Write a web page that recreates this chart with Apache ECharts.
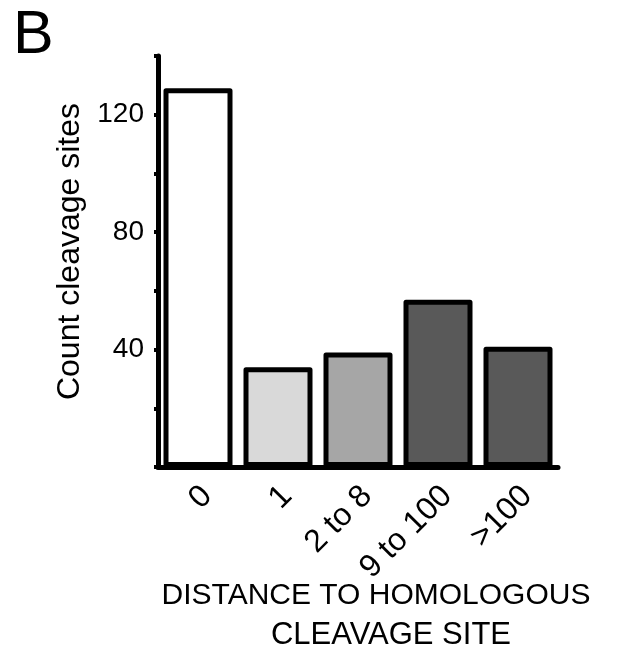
<!DOCTYPE html>
<html>
<head>
<meta charset="utf-8">
<script src="https://cdn.jsdelivr.net/npm/echarts@6/dist/echarts.min.js"></script>
<style>
html,body{margin:0;padding:0;background:#fff;}
#chart{width:622px;height:657px;}
</style>
</head>
<body>
<div id="chart"></div>
<script>
const categories = ['0', '1', '2 to 8', '9 to 100', '>100'];
const counts = [129, 34, 39, 57, 41];
const barColors = ['#ffffff', '#d9d9d9', '#a6a6a6', '#595959', '#595959'];
const yLabelValues = [40, 80, 120];
const yTitle = 'Count cleavage sites';
const xTitleLines = ['DISTANCE TO HOMOLOGOUS', 'CLEAVAGE SITE'];
const panelLabel = 'B';

const FONT = '"Liberation Sans", Arial, Helvetica, sans-serif';
const chart = echarts.init(document.getElementById('chart'), null, {renderer: 'canvas'});

chart.setOption({
  animation: false,
  backgroundColor: '#ffffff',
  grid: {left: 158, right: 64, top: 56, bottom: 190, containLabel: false},
  xAxis: {
    type: 'category',
    data: categories,
    axisLine: {show: true, lineStyle: {color: '#000', width: 5}},
    axisTick: {show: false},
    axisLabel: {rotate: 45, margin: 15, fontSize: 32, lineHeight: 26, verticalAlign: 'top', color: '#000', fontFamily: FONT, interval: 0}
  },
  yAxis: {
    type: 'value',
    min: 0, max: 140, interval: 20,
    name: yTitle,
    nameLocation: 'middle',
    nameGap: 72,
    nameRotate: 90,
    nameTextStyle: {fontSize: 32, color: '#000', fontFamily: FONT, padding: [0, 0, 0, 20]},
    splitLine: {show: false},
    axisLine: {show: true, lineStyle: {color: '#000', width: 5}},
    axisTick: {show: true, inside: false, length: 4, lineStyle: {color: '#000', width: 4}},
    axisLabel: {
      margin: 14, fontSize: 28, color: '#000', fontFamily: FONT,
      formatter: v => yLabelValues.includes(v) ? String(v) : ''
    }
  },
  series: [{
    type: 'bar',
    data: counts.map((v, i) => ({value: v, itemStyle: {color: barColors[i]}})),
    barWidth: 69,
    itemStyle: {borderColor: '#000', borderWidth: 5, borderJoin: 'round'}
  }],
  graphic: [
    {type: 'text', left: 13, top: 6, style: {text: panelLabel, font: '61px ' + FONT, fill: '#000'}},
    {type: 'text', x: 376, y: 596, style: {text: xTitleLines[0], font: '30px ' + FONT, fill: '#000', textAlign: 'center', textVerticalAlign: 'middle'}},
    {type: 'text', x: 391, y: 635, style: {text: xTitleLines[1], font: '31px ' + FONT, fill: '#000', textAlign: 'center', textVerticalAlign: 'middle'}}
  ]
});
</script>
</body>
</html>
